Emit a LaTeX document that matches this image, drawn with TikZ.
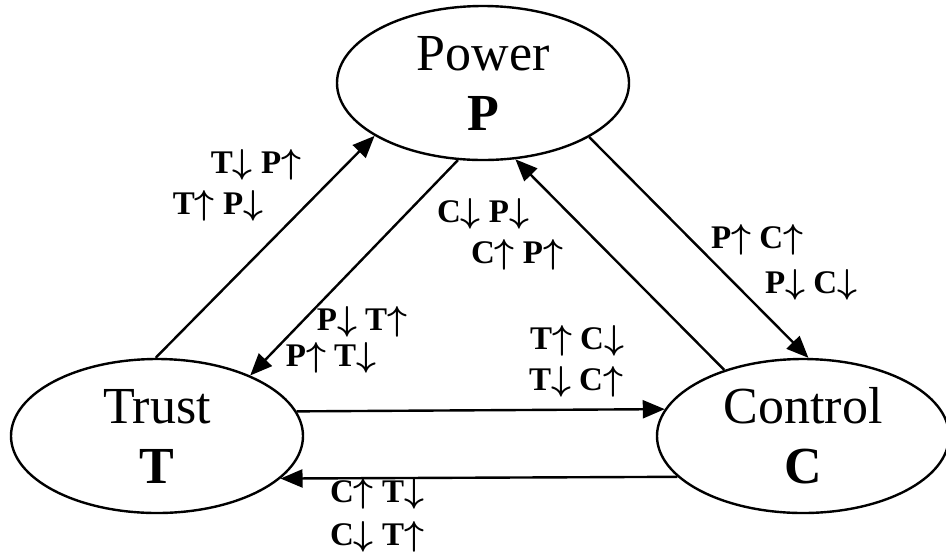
\documentclass[tikz,border=0pt]{standalone}
\usepackage{fontspec}
\setmainfont{Liberation Serif}
\usetikzlibrary{arrows.meta}
\usetikzlibrary{shapes.geometric}

\newcommand{\arrup}{$\uparrow$}
\newcommand{\arrdn}{$\downarrow$}

\begin{document}
\begin{tikzpicture}[x=0.5pt,y=-0.5pt,->,>={Triangle[length=11pt,width=9pt]},line width=1.2pt,
                    main node/.style={ellipse,draw,inner sep=-4pt,minimum width=146pt,minimum height=77pt,
                                      align=center,font=\fontsize{26}{30}\selectfont},
                    lbl/.style={inner sep=0pt,font=\bfseries\boldmath\fontsize{16.5}{18}\selectfont}]

        \useasboundingbox (0,0) rectangle (946,553);

        \node[main node] (power) at (483,83) {Power\\\textbf{P}};
        \node[main node] (trust) at (157,436) {Trust\\\textbf{T}};
        \node[main node] (control) at (803,436) {Control\\\textbf{C}};

        % arrows between the three
        \draw (trust.91.5) -- (power.206.6);
        \draw (power.252) -- (trust.33.7);
        \draw (control.140.5) -- (power.293.8);
        \draw (power.333.2) -- (control.86.3);
        \draw (trust.10.7) -- (control.169.3);
        \draw (control.198.2) -- (trust.341.8);

        % labels
        \node[lbl] (tp1) at (256,165) {T\arrdn{} P\arrup};
        \node[lbl] (tp2) at (218,206) {T\arrup{} P\arrdn};
        \node[lbl] (cp1) at (483,214) {C\arrdn{} P\arrdn};
        \node[lbl] (cp2) at (517,255) {C\arrup{} P\arrup};
        \node[lbl] (pc1) at (757,240) {P\arrup{} C\arrup};
        \node[lbl] (pc2) at (811,285) {P\arrdn{} C\arrdn};
        \node[lbl] (pt1) at (362,322) {P\arrdn{} T\arrup};
        \node[lbl] (pt2) at (331,358) {P\arrup{} T\arrdn};
        \node[lbl] (tc1) at (577,341) {T\arrup{} C\arrdn};
        \node[lbl] (tc2) at (576,382) {T\arrdn{} C\arrup};
        \node[lbl] (ct1) at (377,494) {C\arrup{} T\arrdn};
        \node[lbl] (ct2) at (377,537) {C\arrdn{} T\arrup};
    \end{tikzpicture}
\end{document}
